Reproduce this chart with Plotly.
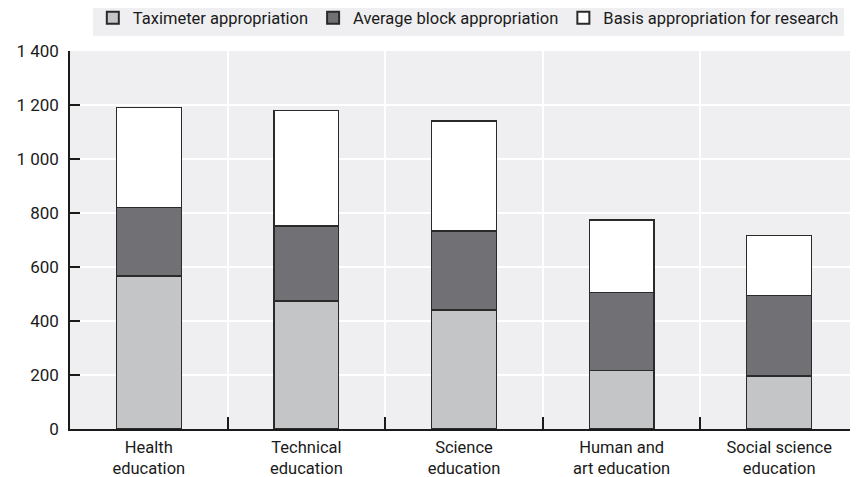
import plotly.graph_objects as go

categories = ["Health<br>education", "Technical<br>education", "Science<br>education",
              "Human and<br>art education", "Social science<br>education"]
taximeter = [567, 474, 441, 218, 196]
block = [253, 278, 292, 289, 297]
basis = [370, 429, 408, 267, 225]
series_names = ["Taximeter appropriation", "Average block appropriation",
                "Basis appropriation for research"]
y_ticks = [0, 200, 400, 600, 800, 1000, 1200, 1400]

FONT = "Roboto, Liberation Sans, sans-serif"
colors = ["#c4c5c7", "#717175", "#ffffff"]
xpos = list(range(len(categories)))

W, H = 850, 469  # page body has an 8px margin

fig = go.Figure()
for name, vals, col in zip(series_names, [taximeter, block, basis], colors):
    fig.add_trace(go.Bar(x=xpos, y=vals, name=name, width=0.41,
                         marker=dict(color=col, line=dict(color="#2a2a2a", width=1.2))))

fig.update_layout(
    barmode="stack",
    width=W, height=H,
    margin=dict(l=62, r=0, t=43, b=48, autoexpand=False),
    paper_bgcolor="white",
    plot_bgcolor="#efeff1",
    separators=". ",
    font=dict(family=FONT, size=17, color="#1a1a1a"),
    showlegend=True,
    legend=dict(orientation="h", x=0.982, xanchor="right", xref="paper",
                y=1 - 10 / H, yanchor="middle", yref="container",
                bgcolor="#efeff1", font=dict(size=16.5), traceorder="normal",
                itemsizing="constant", itemwidth=30),
)
fig.update_xaxes(range=[-0.5, 4.5], tickmode="array", tickvals=xpos, ticktext=categories,
                 showgrid=False, ticks="", showline=True, linecolor="#1a1a1a", linewidth=2,
                 zeroline=False, ticklabelstandoff=2, tickfont=dict(size=16.5),
                 minor=dict(tickmode="array", tickvals=[0.5, 1.5, 2.5, 3.5], showgrid=True,
                            gridcolor="white", gridwidth=1.5, ticks="inside", ticklen=12,
                            tickcolor="#1a1a1a", tickwidth=1.5))
fig.update_yaxes(range=[0, 1400], tickmode="array", tickvals=y_ticks, tickformat=",d",
                 showgrid=True, gridcolor="white", gridwidth=1.5,
                 ticks="inside", ticklen=10, tickcolor="#1a1a1a", tickwidth=1.5,
                 showline=True, linecolor="#1a1a1a", linewidth=1.5, zeroline=False,
                 ticklabelstandoff=6)
fig.write_html("out.html")
